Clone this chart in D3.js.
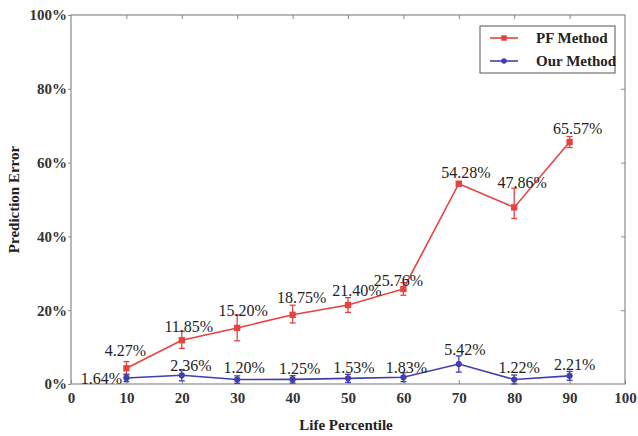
<!DOCTYPE html>
<html>
<head>
<meta charset="utf-8">
<script src="https://cdn.jsdelivr.net/npm/d3@7"></script>
<style>
  html, body { margin: 0; padding: 0; background: #fff; }
  svg, svg text { font-family: "Liberation Serif", "Times New Roman", serif !important; }
</style>
</head>
<body>
<div id="chart"></div>
<script>
// data
const percentiles = [10, 20, 30, 40, 50, 60, 70, 80, 90];
const pfValues   = [4.27, 11.85, 15.20, 18.75, 21.40, 25.76, 54.28, 47.86, 65.57];
const pfErrLow   = [1.8, 2.2, 3.5, 2.2, 2.0, 1.7, 0.5, 3.0, 1.5];
const pfErrHigh  = [1.8, 2.4, 3.5, 2.6, 2.0, 1.7, 0.5, 5.2, 1.5];
const ourValues  = [1.64, 2.36, 1.20, 1.25, 1.53, 1.83, 5.42, 1.22, 2.21];
const ourErrLow  = [1.0, 1.5, 1.0, 1.0, 1.1, 1.2, 2.2, 1.2, 1.2];
const ourErrHigh = [1.0, 1.5, 1.0, 1.0, 1.1, 1.2, 2.2, 1.2, 1.2];
const xTicks = [0, 10, 20, 30, 40, 50, 60, 70, 80, 90, 100];
const yTicks = [0, 20, 40, 60, 80, 100];
const seriesNames = ['PF Method', 'Our Method'];

// label nudges (px, relative to the point)
const pfLabelDx  = [-1, 7, 6, 9, 9, -5, 7, 8, 8];
const pfLabelDy  = [-18, -14, -18, -17, -15, -9, -11, -25, -14];
const ourLabelDx = [-25, 9, 7, 7, 6, 3, 6, 5, 5];
const ourLabelDy = [0, -10, -12, -11, -11, -10, -15, -12, -11];

const W = 638, H = 436;
const margin = { left: 71, right: 13, top: 15, bottom: 52 };
const red = '#e8413f', blue = '#3f3fae', axisGray = '#8a8a8a';
const serif = '"Liberation Serif", "Times New Roman", serif';

const svg = d3.select('#chart').append('svg')
  .attr('width', W).attr('height', H)
  .attr('font-family', serif);

const x = d3.scaleLinear().domain([0, 100]).range([margin.left, W - margin.right]);
const y = d3.scaleLinear().domain([0, 100]).range([H - margin.bottom, margin.top]);

// frame
svg.append('rect')
  .attr('x', x(0)).attr('y', y(100))
  .attr('width', x(100) - x(0)).attr('height', y(0) - y(100))
  .attr('fill', 'none').attr('stroke', axisGray).attr('stroke-width', 1.2);

const fmtPct = d => d + '%';

const xAxis = svg.append('g').attr('transform', `translate(0,${y(0)})`)
  .call(d3.axisBottom(x).tickValues(xTicks).tickSize(-4).tickPadding(8));
const xTop = svg.append('g').attr('transform', `translate(0,${y(100)})`)
  .call(d3.axisTop(x).tickValues(xTicks.slice(1, -1)).tickSize(-4).tickFormat(''));
const yAxis = svg.append('g').attr('transform', `translate(${x(0)},0)`)
  .call(d3.axisLeft(y).tickValues(yTicks).tickSize(3).tickPadding(1).tickFormat(fmtPct));
const yRight = svg.append('g').attr('transform', `translate(${x(100)},0)`)
  .call(d3.axisRight(y).tickValues(yTicks.slice(1, -1)).tickSize(-4).tickFormat(''));

[xAxis, xTop, yAxis, yRight].forEach(g => {
  g.attr('font-family', serif);
  g.select('.domain').remove();
  g.selectAll('line').attr('stroke', axisGray);
  g.selectAll('text')
    .attr('fill', '#333').attr('font-size', 15).attr('font-weight', 'bold');
});

// axis titles
svg.append('text')
  .attr('x', (x(0) + x(100)) / 2 - 2).attr('y', 430)
  .attr('text-anchor', 'middle').attr('font-size', 15).attr('font-weight', 'bold')
  .attr('fill', '#222').text('Life Percentile');
svg.append('text')
  .attr('transform', `translate(19,${(y(0) + y(100)) / 2}) rotate(-90)`)
  .attr('text-anchor', 'middle').attr('font-size', 15).attr('font-weight', 'bold')
  .attr('fill', '#222').text('Prediction Error');

function drawSeries(values, errLow, errHigh, color, marker, labelDx, labelDy) {
  const pts = percentiles.map((p, i) => ({ p, v: values[i], lo: errLow[i], hi: errHigh[i], i }));
  const g = svg.append('g');

  g.append('path')
    .datum(pts)
    .attr('fill', 'none').attr('stroke', color).attr('stroke-width', 1.6)
    .attr('d', d3.line().x(d => x(d.p)).y(d => y(d.v)));

  const eb = g.selectAll('.eb').data(pts).enter().append('g')
    .attr('stroke', color).attr('stroke-width', 1.3);
  eb.append('line')
    .attr('x1', d => x(d.p)).attr('x2', d => x(d.p))
    .attr('y1', d => y(d.v - d.lo)).attr('y2', d => y(d.v + d.hi));
  eb.append('line')
    .attr('x1', d => x(d.p) - 3).attr('x2', d => x(d.p) + 3)
    .attr('y1', d => y(d.v - d.lo)).attr('y2', d => y(d.v - d.lo));
  eb.append('line')
    .attr('x1', d => x(d.p) - 3).attr('x2', d => x(d.p) + 3)
    .attr('y1', d => y(d.v + d.hi)).attr('y2', d => y(d.v + d.hi));

  g.selectAll('.mk').data(pts).enter().append('path')
    .attr('transform', d => `translate(${x(d.p)},${y(d.v)})`)
    .attr('d', d3.symbol().type(marker).size(marker === d3.symbolSquare ? 40 : 30))
    .attr('fill', color);

  g.selectAll('.lbl').data(pts).enter().append('text')
    .attr('x', d => x(d.p) + labelDx[d.i])
    .attr('y', d => y(d.v) + labelDy[d.i])
    .attr('dy', '0.35em')
    .attr('text-anchor', 'middle')
    .attr('font-size', 16).attr('fill', '#222')
    .text(d => d.v.toFixed(2) + '%');
}

drawSeries(pfValues, pfErrLow, pfErrHigh, red, d3.symbolSquare, pfLabelDx, pfLabelDy);
drawSeries(ourValues, ourErrLow, ourErrHigh, blue, d3.symbolCircle, ourLabelDx, ourLabelDy);

// legend
const lg = svg.append('g').attr('transform', 'translate(480,26)');
lg.append('rect').attr('width', 135).attr('height', 47)
  .attr('fill', '#fff').attr('stroke', '#555').attr('stroke-width', 1);
[red, blue].forEach((c, i) => {
  const yy = 12 + i * 23;
  lg.append('line').attr('x1', 10).attr('x2', 38).attr('y1', yy).attr('y2', yy)
    .attr('stroke', c).attr('stroke-width', 1.6);
  lg.append('path').attr('transform', `translate(24,${yy})`)
    .attr('d', d3.symbol().type(i === 0 ? d3.symbolSquare : d3.symbolCircle).size(i === 0 ? 30 : 24))
    .attr('fill', c);
  lg.append('text').attr('x', 56).attr('y', yy).attr('dy', '0.35em')
    .attr('font-size', 15).attr('font-weight', 'bold')
    .attr('fill', '#222').text(seriesNames[i]);
});
</script>
</body>
</html>
